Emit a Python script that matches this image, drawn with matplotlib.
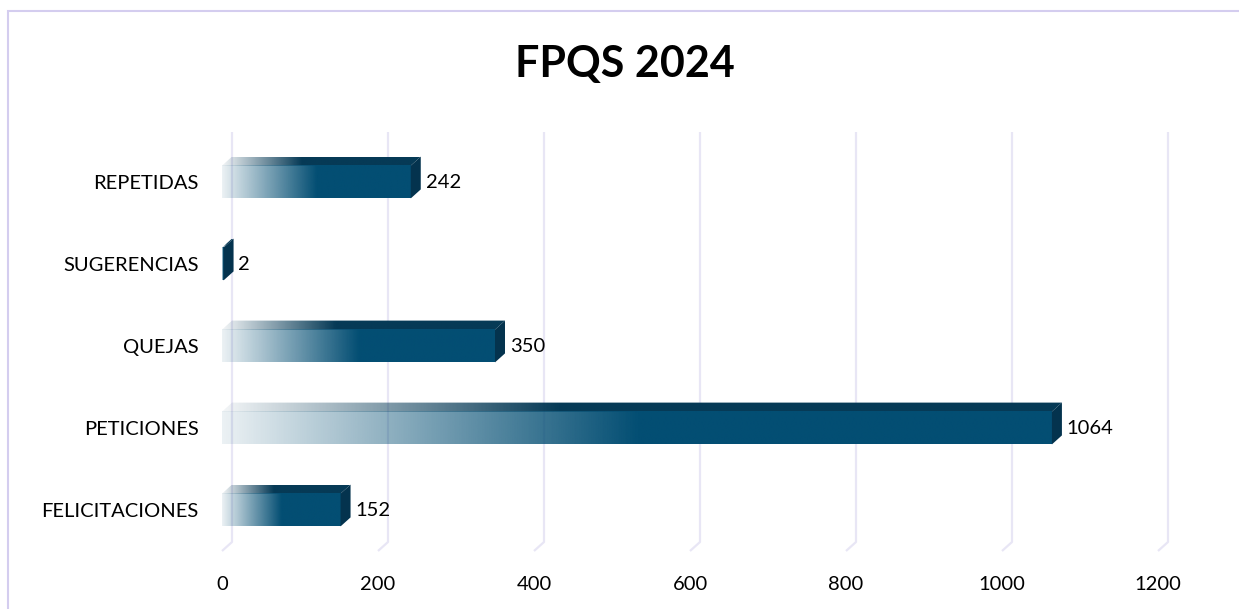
import numpy as np
import matplotlib.pyplot as plt
from matplotlib.patches import Polygon, Rectangle

categories = ["FELICITACIONES", "PETICIONES", "QUEJAS", "SUGERENCIAS", "REPETIDAS"]
values = [152, 1064, 350, 2, 242]
x_ticks = [0, 200, 400, 600, 800, 1000, 1200]
title = "FPQS 2024"

W, H = 1239, 609
plt.rcParams["font.family"] = ["Lato", "DejaVu Sans"]

fig = plt.figure(figsize=(W / 100, H / 100), dpi=100)
ax_left, ax_right, ax_top, ax_bottom = 222, 1158, 141, 551
ax = fig.add_axes([ax_left / W, 1 - ax_bottom / H,
                   (ax_right - ax_left) / W, (ax_bottom - ax_top) / H])
ax.set_xlim(0, 1200)
ax.set_ylim(-0.5, 4.5)

# 3d depth, pixels converted to data units
px_x = (ax_right - ax_left) / 1200
px_y = (ax_bottom - ax_top) / 5
dx = 10 / px_x
dy = 9 / px_y
bar_h = 0.40

front_col = np.array([3, 78, 115]) / 255
top_col = np.array([6, 58, 86]) / 255
side_col = "#04334e"
grid_col = "#e8e6f5"

# back-wall gridlines with floor diagonal
for t in x_ticks:
    ax.plot([t + dx, t + dx, t], [4.5 + dy, -0.5 + dy, -0.5],
            color=grid_col, lw=1.6, zorder=0, clip_on=False,
            solid_capstyle="butt")


def ramp(color, n, full_at, a0):
    x = np.linspace(0, 1, n)
    a = a0 + (1 - a0) * np.clip(x / full_at, 0, 1)
    rgba = np.zeros((1, n, 4))
    rgba[0, :, :3] = color
    rgba[0, :, 3] = a
    return rgba


for i, v in enumerate(values):
    y0, y1 = i - bar_h / 2, i + bar_h / 2
    # top face
    top = Polygon([(0, y1), (dx, y1 + dy), (v + dx, y1 + dy), (v, y1)],
                  closed=True, facecolor="none", edgecolor="none")
    ax.add_patch(top)
    im = ax.imshow(ramp(top_col, 300, 0.4, 0.05), extent=[0, v + dx, y1, y1 + dy],
                   aspect="auto", interpolation="bilinear", zorder=2)
    im.set_clip_path(top)
    # front face
    ax.imshow(ramp(front_col, 300, 0.5, 0.08), extent=[0, v, y0, y1],
              aspect="auto", interpolation="bilinear", zorder=3)
    # side face
    ax.add_patch(Polygon([(v, y1), (v + dx, y1 + dy), (v + dx, y0 + dy), (v, y0)],
                         closed=True, facecolor=side_col, edgecolor="none", zorder=3))
    ax.annotate(str(v), (v + dx, i), xytext=(3.5, 0), textcoords="offset points",
                va="center", ha="left", fontsize=14.5, color="#000000")

ax.set_xlim(0, 1200)
ax.set_ylim(-0.5, 4.5)
ax.set_xticks(x_ticks)
ax.set_xticklabels([str(t) for t in x_ticks], fontsize=14.5)
ax.set_yticks(range(len(categories)))
ax.set_yticklabels(categories, fontsize=14.5)
ax.tick_params(axis="y", length=0, pad=17)
ax.tick_params(axis="x", length=0, pad=18)
for s in ax.spines.values():
    s.set_visible(False)

fig.text(625 / W, 1 - 64 / H, title, ha="center", va="center",
         fontsize=31, fontweight="bold")

fig.patches.append(Rectangle((8 / W, -0.1), 2.0, 1 - 11 / H + 0.1,
                             transform=fig.transFigure, fill=False,
                             edgecolor="#d4cdef", lw=1.5, zorder=0))

fig.savefig("out.png", dpi=100)
